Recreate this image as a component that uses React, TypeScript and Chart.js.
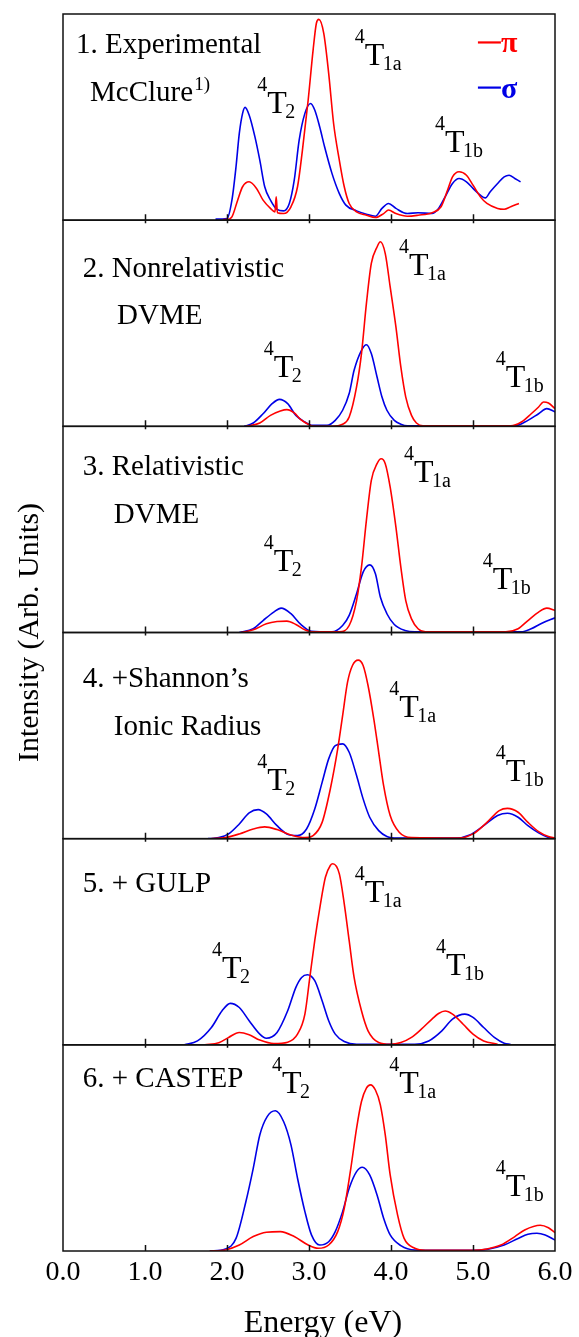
import React, { useEffect, useRef } from 'react';
import { Chart, registerables } from 'chart.js';

Chart.register(...registerables);

type Pt = [number, number];

// ---------- data (energy eV, relative intensity 0..100 of each panel) ----------
const xTickLabels = ['0.0', '1.0', '2.0', '3.0', '4.0', '5.0', '6.0'];
const panelIds = ['p1', 'p2', 'p3', 'p4', 'p5', 'p6'];
const panelTitles = ['1. Experimental', '2. Nonrelativistic', '3. Relativistic', '4. +Shannon\u2019s', '5. + GULP', '6. + CASTEP'];
const panelSubtitles = ['McClure', 'DVME', 'DVME', 'Ionic Radius', '', ''];
const seriesNames = ['\u03c0', '\u03c3'];
const termSubs = ['2', '1a', '1b'];

const expPi: Pt[] = [
  [1.95, 0.3], [2.0, 0.3], [2.06, 1.6], [2.13, 9.7], [2.19, 16.2], [2.27, 18.6], [2.36, 15.4], [2.44, 9.7],
  [2.53, 5.7], [2.585, 4.0], [2.6, 11.3], [2.615, 3.6], [2.69, 3.2], [2.78, 6.5], [2.86, 16.2], [2.92, 34.0],
  [2.99, 58.3], [3.05, 82.5], [3.09, 95.5], [3.12, 97.4], [3.18, 90.6], [3.24, 71.2], [3.30, 46.9], [3.37, 29.1],
  [3.43, 16.2], [3.49, 8.1], [3.58, 4.0], [3.70, 2.4], [3.81, 1.3], [3.91, 3.2], [3.97, 4.9], [4.06, 3.2],
  [4.20, 1.9], [4.33, 2.4], [4.50, 3.6], [4.61, 6.5], [4.69, 14.6], [4.75, 21.0], [4.83, 23.5], [4.92, 21.8],
  [5.00, 17.0], [5.09, 11.3], [5.17, 8.1], [5.30, 5.7], [5.38, 5.3], [5.46, 6.5], [5.56, 8.1],
];
const expSigma: Pt[] = [
  [1.86, 0.5], [2.0, 0.8], [2.06, 9.7], [2.11, 25.9], [2.15, 42.1], [2.19, 51.8], [2.22, 54.7], [2.27, 51.0],
  [2.34, 40.5], [2.40, 29.1], [2.46, 16.2], [2.53, 9.7], [2.61, 5.2], [2.69, 4.5], [2.76, 8.1], [2.82, 19.4],
  [2.88, 38.8], [2.95, 51.8], [3.02, 56.6], [3.07, 53.4], [3.13, 45.3], [3.19, 35.6], [3.28, 22.7], [3.37, 12.9],
  [3.45, 7.3], [3.58, 4.5], [3.70, 2.9], [3.81, 1.9], [3.89, 5.7], [3.97, 8.1], [4.06, 5.7], [4.20, 3.2],
  [4.33, 3.6], [4.50, 3.2], [4.58, 5.7], [4.66, 11.3], [4.75, 17.8], [4.83, 20.2], [4.92, 18.6], [5.00, 15.4],
  [5.09, 12.1], [5.15, 10.8], [5.21, 13.8], [5.30, 17.8], [5.38, 21.0], [5.44, 21.8], [5.51, 20.2], [5.58, 18.6],
];
const nonrelPi: Pt[] = [
  [2.23, 0], [2.40, 1.6], [2.53, 5.3], [2.65, 7.4], [2.73, 8.1], [2.82, 6.5], [2.90, 3.2], [2.99, 1.0],
  [3.07, 0], [3.28, 0], [3.41, 1.0], [3.49, 4.5], [3.58, 19.1], [3.64, 35.3], [3.70, 59.5], [3.76, 79.0],
  [3.83, 87.0], [3.87, 89.5], [3.93, 83.8], [3.99, 67.6], [4.06, 48.2], [4.12, 28.8], [4.18, 14.2], [4.25, 5.3],
  [4.31, 1.6], [4.39, 0.2], [5.46, 0.2], [5.59, 2.1], [5.71, 6.1], [5.80, 9.4], [5.86, 11.8], [5.92, 11.3], [6.0, 8.6],
];
const nonrelSigma: Pt[] = [
  [2.21, 0], [2.32, 1.6], [2.44, 6.1], [2.55, 11.0], [2.64, 13.1], [2.74, 11.0], [2.84, 5.3], [2.95, 2.1],
  [3.03, 0.5], [3.22, 0.5], [3.32, 2.9], [3.41, 7.8], [3.49, 15.9], [3.55, 27.2], [3.64, 36.9], [3.70, 39.6],
  [3.76, 35.3], [3.83, 23.9], [3.89, 14.2], [3.95, 7.8], [4.04, 2.9], [4.12, 1.0], [4.20, 0.2], [5.51, 0.2],
  [5.67, 2.9], [5.80, 6.1], [5.90, 8.6], [6.0, 7.0],
];
const relPi: Pt[] = [
  [2.17, 0], [2.32, 1.3], [2.48, 4.2], [2.61, 5.3], [2.73, 5.5], [2.84, 3.9], [2.95, 1.3], [3.03, 0.3],
  [3.37, 0.3], [3.49, 3.4], [3.58, 15.5], [3.64, 31.7], [3.70, 54.4], [3.76, 73.8], [3.83, 81.9], [3.88, 84.3],
  [3.93, 81.9], [3.99, 70.5], [4.06, 51.1], [4.12, 31.7], [4.18, 15.5], [4.25, 6.6], [4.33, 1.8], [4.42, 0.3],
  [5.40, 0.3], [5.55, 1.8], [5.67, 5.8], [5.80, 9.9], [5.90, 11.8], [6.0, 10.7],
];
const relSigma: Pt[] = [
  [2.15, 0], [2.32, 1.8], [2.44, 5.8], [2.57, 9.9], [2.66, 11.8], [2.78, 9.1], [2.90, 3.9], [3.03, 0.6],
  [3.28, 0.3], [3.41, 3.4], [3.49, 8.3], [3.58, 18.8], [3.66, 29.3], [3.74, 32.8], [3.81, 28.5], [3.87, 17.2],
  [3.95, 9.1], [4.04, 3.9], [4.17, 1.0], [4.29, 0.3], [5.59, 0.3], [5.71, 1.8], [5.84, 4.5], [6.0, 7.1],
];
const shannonPi: Pt[] = [
  [1.81, 0], [1.98, 0.5], [2.15, 2.3], [2.32, 4.7], [2.46, 5.7], [2.61, 4.4], [2.78, 1.8], [2.95, 0.5],
  [3.05, 1.5], [3.16, 7.9], [3.26, 24.1], [3.35, 43.5], [3.41, 59.7], [3.47, 75.9], [3.53, 84.0], [3.60, 86.6],
  [3.66, 84.0], [3.72, 74.3], [3.79, 58.1], [3.85, 41.9], [3.91, 25.7], [3.99, 11.2], [4.10, 3.1], [4.25, 0.5],
  [4.83, 0.3], [5.00, 2.3], [5.17, 7.9], [5.32, 13.6], [5.42, 14.7], [5.55, 12.8], [5.67, 7.9], [5.80, 3.4],
  [5.92, 1.0], [6.0, 0.3],
];
const shannonSigma: Pt[] = [
  [1.77, 0], [1.90, 0.5], [2.02, 2.3], [2.15, 7.1], [2.27, 12.5], [2.38, 14.1], [2.48, 12.0], [2.61, 6.3],
  [2.73, 2.3], [2.86, 1.5], [2.97, 4.7], [3.07, 14.4], [3.16, 27.3], [3.24, 38.7], [3.32, 45.1], [3.41, 46.0],
  [3.49, 41.9], [3.58, 30.6], [3.66, 19.3], [3.74, 10.4], [3.85, 3.9], [3.95, 1.1], [4.08, 0.3], [4.79, 0.3],
  [4.96, 1.8], [5.13, 6.3], [5.30, 11.2], [5.42, 12.3], [5.55, 10.4], [5.67, 6.3], [5.80, 2.8], [5.92, 0.6], [6.0, 0.2],
];
const gulpPi: Pt[] = [
  [1.73, 0], [1.90, 1.0], [2.02, 3.6], [2.15, 6.0], [2.27, 4.9], [2.40, 2.3], [2.57, 0.6], [2.74, 1.3],
  [2.86, 5.2], [2.95, 14.9], [3.01, 32.7], [3.07, 50.5], [3.14, 68.4], [3.20, 81.3], [3.26, 87.0], [3.29, 87.8],
  [3.37, 82.9], [3.43, 68.4], [3.49, 50.5], [3.55, 32.7], [3.64, 16.5], [3.72, 6.8], [3.85, 1.1], [3.99, 0.2],
  [4.12, 1.1], [4.25, 3.6], [4.37, 7.6], [4.50, 12.5], [4.58, 15.2], [4.66, 16.4], [4.75, 14.9], [4.88, 10.0],
  [5.00, 5.2], [5.13, 1.9], [5.30, 0.3],
];
const gulpSigma: Pt[] = [
  [1.48, 0], [1.64, 1.9], [1.81, 8.4], [1.94, 16.5], [2.04, 20.1], [2.15, 18.1], [2.27, 11.7], [2.40, 5.2],
  [2.48, 3.2], [2.61, 6.0], [2.74, 16.5], [2.84, 27.9], [2.91, 32.7], [2.98, 34.0], [3.07, 31.1], [3.16, 21.4],
  [3.24, 11.7], [3.32, 5.2], [3.43, 1.6], [3.58, 0.3], [4.29, 0.3], [4.46, 1.9], [4.62, 6.8], [4.75, 12.5],
  [4.90, 14.9], [5.00, 13.3], [5.13, 8.4], [5.26, 3.6], [5.38, 0.8], [5.46, 0.2],
];
const castepPi: Pt[] = [
  [1.79, 0], [1.98, 0.5], [2.15, 2.9], [2.32, 7.0], [2.48, 9.1], [2.65, 9.4], [2.82, 7.0], [2.99, 2.9],
  [3.11, 1.3], [3.24, 2.9], [3.35, 9.4], [3.43, 20.7], [3.51, 40.1], [3.58, 59.5], [3.64, 72.5], [3.70, 79.0],
  [3.75, 80.6], [3.81, 78.1], [3.87, 70.9], [3.93, 56.3], [3.99, 36.9], [4.08, 17.5], [4.16, 6.1], [4.29, 1.3],
  [4.42, 0.3], [5.00, 0.3], [5.17, 1.0], [5.34, 2.9], [5.51, 7.0], [5.63, 10.2], [5.82, 12.5], [5.92, 11.3], [6.0, 8.9],
];
const castepSigma: Pt[] = [
  [1.79, 0], [1.98, 1.0], [2.11, 6.1], [2.23, 23.9], [2.32, 40.1], [2.40, 56.3], [2.49, 65.2], [2.59, 68.0],
  [2.69, 62.8], [2.78, 51.5], [2.86, 35.3], [2.95, 19.1], [3.03, 7.8], [3.13, 2.9], [3.24, 4.5], [3.32, 9.4],
  [3.41, 19.1], [3.49, 30.4], [3.58, 38.5], [3.65, 40.6], [3.74, 36.9], [3.83, 27.2], [3.91, 15.9], [3.99, 7.8],
  [4.12, 2.6], [4.29, 0.5], [5.00, 0.3], [5.17, 0.8], [5.38, 2.9], [5.55, 6.1], [5.67, 8.1], [5.78, 8.6],
  [5.88, 7.8], [6.0, 5.3],
];

const piSeries = [expPi, nonrelPi, relPi, shannonPi, gulpPi, castepPi];
const sigmaSeries = [expSigma, nonrelSigma, relSigma, shannonSigma, gulpSigma, castepSigma];

// ---------- annotation anchors (energy, panel-relative value) ----------
const titleAnchors: Pt[] = [[0.16, 81.3], [0.24, 72.6], [0.24, 76.6], [0.24, 73.7], [0.24, 74.2], [0.24, 79.5]];
const subtitleAnchors: Pt[] = [[0.33, 57.6], [0.66, 49.4], [0.62, 52.9], [0.62, 50.4], [0, 0], [0, 0]];
const termAnchors: Pt[][] = [
  [[2.49, 52.2], [3.68, 75.5], [4.66, 33.3]],
  [[2.57, 23.7], [4.22, 73.6], [5.40, 19.3]],
  [[2.57, 29.6], [4.28, 73.2], [5.24, 20.9]],
  [[2.49, 23.8], [4.10, 59.2], [5.40, 28.1]],
  [[1.94, 32.5], [3.68, 69.4], [4.67, 33.9]],
  [[2.67, 76.6], [4.10, 76.6], [5.40, 26.7]],
];
const legendAnchors: Pt[] = [[5.06, 86.2], [5.06, 64.3]];

const RED = '#ff0000';
const BLUE = '#0000e6';
const SERIF = '"Liberation Serif", "Times New Roman", serif';

const decorPlugin = {
  id: 'decor',
  afterDatasetsDraw(chart: any) {
    const ctx: CanvasRenderingContext2D = chart.ctx;
    const xs = chart.scales.x;
    const { left, right, top: caTop, bottom: caBottom } = chart.chartArea;
    ctx.save();
    ctx.textAlign = 'left';
    ctx.textBaseline = 'alphabetic';
    panelIds.forEach((id, i) => {
      const ys = chart.scales[id];
      const top = ys.top;
      const bottom = ys.bottom;
      const X = (e: number) => xs.getPixelForValue(e);
      const Y = (v: number) => ys.getPixelForValue(v);
      // frame
      ctx.strokeStyle = '#111';
      ctx.lineWidth = 1.5;
      ctx.strokeRect(left, top, right - left, bottom - top);
      // inner tick marks
      ctx.beginPath();
      for (let t = 1; t <= 5; t++) {
        const px = Math.round(X(t)) + 0.5;
        ctx.moveTo(px, bottom);
        ctx.lineTo(px, bottom - 6);
        if (i > 0) {
          ctx.moveTo(px, top);
          ctx.lineTo(px, top + 3);
        }
      }
      ctx.stroke();
      // panel titles
      ctx.fillStyle = '#000';
      ctx.font = `29px ${SERIF}`;
      const [te, tv] = titleAnchors[i];
      ctx.fillText(panelTitles[i], X(te), Y(tv));
      if (panelSubtitles[i]) {
        const [se, sv] = subtitleAnchors[i];
        ctx.font = `29px ${SERIF}`;
        ctx.fillText(panelSubtitles[i], X(se), Y(sv));
        if (i === 0) {
          const w = ctx.measureText(panelSubtitles[i]).width;
          ctx.font = `19px ${SERIF}`;
          ctx.fillText('1)', X(se) + w + 1, Y(sv) - 11);
        }
      }
      // term symbols
      termAnchors[i].forEach(([e, v], k) => {
        const x = X(e);
        const y = Y(v);
        ctx.font = `20px ${SERIF}`;
        ctx.fillText('4', x - 10, y - 22);
        ctx.font = `32px ${SERIF}`;
        ctx.fillText('T', x, y);
        ctx.font = `20px ${SERIF}`;
        ctx.fillText(termSubs[k], x + 18, y + 5);
      });
      // legend in first panel
      if (i === 0) {
        legendAnchors.forEach(([e, v], k) => {
          const x0 = X(e);
          const y0 = Y(v);
          ctx.strokeStyle = k === 0 ? RED : BLUE;
          ctx.fillStyle = k === 0 ? RED : BLUE;
          ctx.lineWidth = 2.2;
          ctx.beginPath();
          ctx.moveTo(x0, y0);
          ctx.lineTo(x0 + 23, y0);
          ctx.stroke();
          ctx.font = `bold 30px ${SERIF}`;
          ctx.fillText(seriesNames[k], x0 + 23, y0 + 10);
        });
        ctx.fillStyle = '#000';
      }
    });
    // axis titles
    ctx.fillStyle = '#000';
    ctx.font = `32px ${SERIF}`;
    ctx.textAlign = 'center';
    ctx.textBaseline = 'alphabetic';
    ctx.fillText('Energy (eV)', (left + right) / 2 + 14, chart.height - 5);
    ctx.save();
    ctx.translate(38, (caTop + caBottom) / 2);
    ctx.rotate(-Math.PI / 2);
    ctx.font = `30px ${SERIF}`;
    ctx.fillText('Intensity (Arb. Units)', 0, 0);
    ctx.restore();
    ctx.restore();
  },
};

export default function App() {
  const ref = useRef<HTMLCanvasElement | null>(null);

  useEffect(() => {
    if (!ref.current) return;
    const datasets: any[] = [];
    panelIds.forEach((id, i) => {
      datasets.push({
        label: `${i + 1} ${seriesNames[0]}`,
        data: piSeries[i].map(([x, y]) => ({ x, y })),
        borderColor: RED,
        borderWidth: 1.6,
        pointRadius: 0,
        fill: false,
        cubicInterpolationMode: 'monotone',
        xAxisID: 'x',
        yAxisID: id,
      });
      datasets.push({
        label: `${i + 1} ${seriesNames[1]}`,
        data: sigmaSeries[i].map(([x, y]) => ({ x, y })),
        borderColor: BLUE,
        borderWidth: 1.6,
        pointRadius: 0,
        fill: false,
        cubicInterpolationMode: 'monotone',
        xAxisID: 'x',
        yAxisID: id,
      });
    });

    const scales: any = {
      x: {
        type: 'linear',
        position: 'bottom',
        min: 0,
        max: 6,
        afterFit: (s: any) => {
          s.height = 86;
        },
        ticks: {
          stepSize: 1,
          padding: 5,
          color: '#000',
          font: { family: SERIF, size: 28 },
          callback: (v: any) => xTickLabels[Math.round(Number(v))] ?? '',
        },
        grid: { display: false, drawTicks: false },
        border: { display: false },
      },
    };
    panelIds.forEach((id, i) => {
      scales[id] = {
        type: 'linear',
        position: 'left',
        display: false,
        min: 0,
        max: 100,
        stack: 'panels',
        stackWeight: 1,
        weight: panelIds.length - i,
      };
    });

    const chart = new Chart(ref.current, {
      type: 'line',
      data: { datasets },
      options: {
        responsive: false,
        animation: false,
        devicePixelRatio: 1,
        events: [],
        layout: { padding: { left: 63, right: 24, top: 14, bottom: 0 } },
        plugins: { legend: { display: false }, tooltip: { enabled: false }, title: { display: false } },
        scales,
      },
      plugins: [decorPlugin],
    } as any);
    return () => chart.destroy();
  }, []);

  return (
    <div style={{ position: 'fixed', left: 0, top: 0, width: 579, height: 1337, background: '#fff' }}>
      <canvas ref={ref} width={579} height={1337} style={{ display: 'block', width: 579, height: 1337 }} />
    </div>
  );
}
